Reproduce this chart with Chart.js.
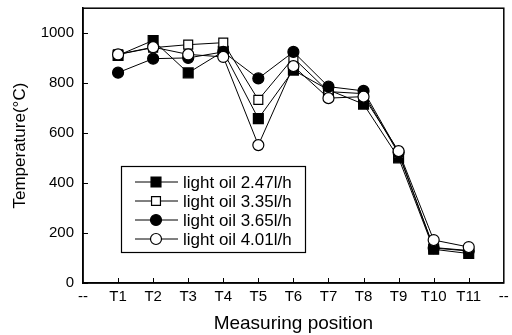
<!DOCTYPE html>
<html>
<head>
<meta charset="utf-8">
<script src="https://cdn.jsdelivr.net/npm/chart.js@4"></script>
<style>
html,body{margin:0;padding:0;background:#fff;}
#wrap{width:512px;height:335px;position:relative;}
</style>
</head>
<body>
<div id="wrap"><canvas id="c" width="512" height="335"></canvas></div>
<script>
const categories = ['--','T1','T2','T3','T4','T5','T6','T7','T8','T9','T10','T11','--'];
const seriesNames = ['light oil 2.47l/h','light oil 3.35l/h','light oil 3.65l/h','light oil 4.01l/h'];
const oil247 = [null, 911, 971, 841, 927, 658, 852, 773, 716, 501, 135, 118, null];
const oil335 = [null, 915, 942, 954, 962, 733, 901, 766, 758, 518, 142, 130, null];
const oil365 = [null, 842, 898, 901, 925, 819, 925, 786, 769, 522, 140, 128, null];
const oil401 = [null, 915, 944, 915, 905, 552, 868, 740, 746, 528, 172, 144, null];
const yTicks = [0, 200, 400, 600, 800, 1000];

const FONT = "'Liberation Sans', Arial, sans-serif";

const styles = [
  {pointStyle:'rect', radius:7, fill:'#000', order:4},
  {pointStyle:'rect', radius:6.3, fill:'#fff', order:3},
  {pointStyle:'circle', radius:5.5, fill:'#000', order:2},
  {pointStyle:'circle', radius:5.5, fill:'#fff', order:1}
];
const seriesData = [oil247, oil335, oil365, oil401];

const datasets = seriesData.map((d, i) => ({
  label: seriesNames[i],
  data: d,
  borderColor: '#000',
  borderWidth: 1,
  backgroundColor: styles[i].fill,
  pointStyle: styles[i].pointStyle,
  pointRadius: styles[i].radius,
  pointHoverRadius: styles[i].radius,
  pointBorderColor: '#000',
  pointBorderWidth: 1.2,
  pointBackgroundColor: styles[i].fill,
  fill: false,
  tension: 0,
  spanGaps: false,
  order: styles[i].order
}));

const framePlugin = {
  id: 'frame',
  afterDatasetsDraw(chart) {
    const {ctx, chartArea: a, scales} = chart;
    ctx.save();
    ctx.strokeStyle = '#000';
    ctx.lineWidth = 1.5;
    ctx.strokeRect(a.left, a.top, a.right - a.left, a.bottom - a.top);
    ctx.lineWidth = 1;
    for (let i = 1; i < categories.length - 1; i++) {
      const x = Math.round(scales.x.getPixelForValue(i)) + 0.5;
      ctx.beginPath();
      ctx.moveTo(x, a.bottom);
      ctx.lineTo(x, a.bottom - 5);
      ctx.stroke();
    }
    yTicks.forEach(v => {
      const y = Math.round(scales.y.getPixelForValue(v)) + 0.5;
      ctx.beginPath();
      ctx.moveTo(a.left, y);
      ctx.lineTo(a.left + 5, y);
      ctx.stroke();
    });
    // legend box
    const bx = 121, by = 166, bw = 184, bh = 86;
    ctx.fillStyle = '#fff';
    ctx.fillRect(bx, by, bw, bh);
    ctx.lineWidth = 1.2;
    ctx.strokeRect(bx + 0.5, by + 0.5, bw, bh);
    const rowY = [182, 201, 220, 239];
    chart.data.datasets.forEach((ds, i) => {
      const y = rowY[i];
      ctx.lineWidth = 1;
      ctx.strokeStyle = '#000';
      ctx.beginPath();
      ctx.moveTo(135, y);
      ctx.lineTo(178, y);
      ctx.stroke();
      ctx.fillStyle = ds.pointBackgroundColor;
      ctx.lineWidth = 1.2;
      ctx.beginPath();
      if (ds.pointStyle === 'rect') {
        const s = ds.pointRadius * Math.SQRT1_2;
        ctx.rect(156 - s, y - s, 2 * s, 2 * s);
      } else {
        ctx.arc(156, y, ds.pointRadius, 0, Math.PI * 2);
      }
      ctx.fill();
      ctx.stroke();
      ctx.fillStyle = '#000';
      ctx.font = '17px ' + FONT;
      ctx.textBaseline = 'middle';
      ctx.textAlign = 'left';
      ctx.fillText(ds.label, 183, y + 1);
    });
    ctx.restore();
  }
};

new Chart(document.getElementById('c'), {
  type: 'line',
  data: { labels: categories, datasets },
  options: {
    responsive: false,
    animation: false,
    devicePixelRatio: 1,
    layout: { padding: { left: 0, right: 3, top: 6, bottom: 0 } },
    plugins: { legend: { display: false }, tooltip: { enabled: false } },
    scales: {
      x: {
        type: 'category',
        offset: false,
        grid: { display: false, drawTicks: false },
        border: { display: true, color: '#000', width: 1.5 },
        ticks: { color: '#000', font: { family: FONT, size: 15 }, padding: 5, autoSkip: false, maxRotation: 0 },
        title: { display: true, text: 'Measuring position', color: '#000', font: { family: FONT, size: 19 }, padding: { top: 5, bottom: 0 } },
        afterFit(s) { s.height = 52; s.paddingLeft = 0; s.paddingRight = 0; }
      },
      y: {
        min: 0, max: 1100,
        grid: { display: false, drawTicks: false },
        border: { display: true, color: '#000', width: 1.5 },
        afterBuildTicks(s) { s.ticks = yTicks.map(v => ({ value: v })); },
        ticks: { color: '#000', font: { family: FONT, size: 15 }, padding: 9, callback: v => String(v) },
        title: { display: true, text: 'Temperature(°C)', color: '#000', font: { family: FONT, size: 17 }, padding: { top: 10, bottom: 0 } },
        afterFit(s) { s.width = 83; s.paddingTop = 0; s.paddingBottom = 0; }
      }
    }
  },
  plugins: [framePlugin]
});
</script>
</body>
</html>
